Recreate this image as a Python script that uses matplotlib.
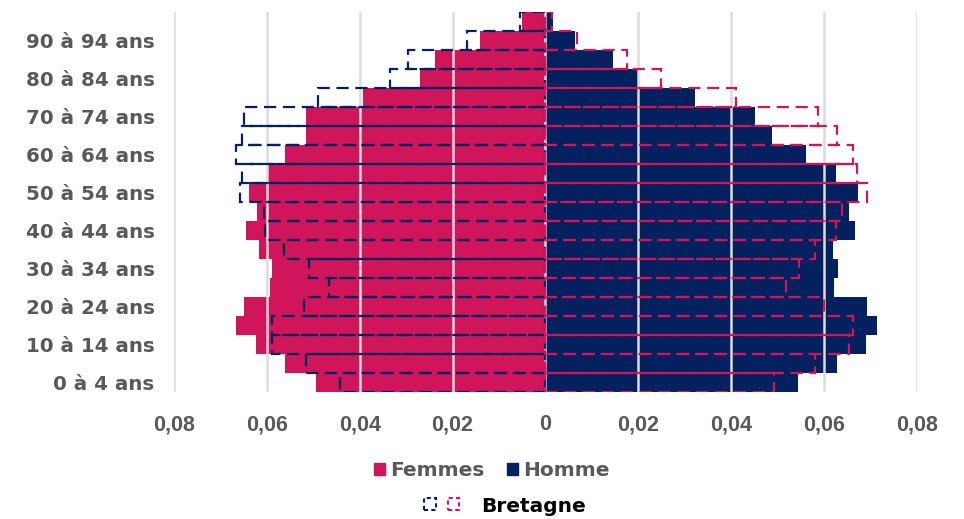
# ==========================================
# Pyramide des âges - comparaison Bretagne
# ==========================================

import matplotlib
matplotlib.use("Agg")
import matplotlib.pyplot as plt
from matplotlib.patches import Patch
from matplotlib.legend_handler import HandlerTuple
from matplotlib.ticker import FuncFormatter


# ==========================================
# 1. DONNÉES
# ==========================================

tranches = [
    "0 à 4 ans", "5 à 9 ans", "10 à 14 ans", "15 à 19 ans",
    "20 à 24 ans", "25 à 29 ans", "30 à 34 ans", "35 à 39 ans",
    "40 à 44 ans", "45 à 49 ans", "50 à 54 ans", "55 à 59 ans",
    "60 à 64 ans", "65 à 69 ans", "70 à 74 ans", "75 à 79 ans",
    "80 à 84 ans", "85 à 89 ans", "90 à 94 ans", "95 ans et plus"
]

femmes = [
    0.0494, 0.0560, 0.0624, 0.0666, 0.0650, 0.0593, 0.0589, 0.0616,
    0.0644, 0.0621, 0.0639, 0.0600, 0.0560, 0.0516, 0.0516, 0.0392,
    0.0271, 0.0237, 0.0142, 0.0050
]

hommes = [
    0.0544, 0.0627, 0.0690, 0.0715, 0.0692, 0.0621, 0.0629, 0.0620,
    0.0667, 0.0654, 0.0672, 0.0626, 0.0562, 0.0487, 0.0451, 0.0322,
    0.0199, 0.0145, 0.0063, 0.0017
]

bretagne_femmes = [
    0.0442, 0.0516, 0.0589, 0.0589, 0.0519, 0.0467, 0.0509, 0.0564,
    0.0603, 0.0606, 0.0657, 0.0654, 0.0666, 0.0654, 0.0650, 0.0490,
    0.0334, 0.0296, 0.0169, 0.0055
]

bretagne_hommes = [
    0.0492, 0.0580, 0.0654, 0.0662, 0.0600, 0.0517, 0.0545, 0.0580,
    0.0625, 0.0639, 0.0693, 0.0670, 0.0663, 0.0627, 0.0586, 0.0411,
    0.0248, 0.0175, 0.0068, 0.0015
]

graduations = [-0.08, -0.06, -0.04, -0.02, 0, 0.02, 0.04, 0.06, 0.08]

rose = "#D1155A"
marine = "#03205F"
gris = "#595959"
tirets = (0, (5.5, 3))


# ==========================================
# 2. GRAPHIQUE
# ==========================================

fig = plt.figure(figsize=(9.64, 5.19), dpi=100)
ax = fig.add_axes([0.1805, 0.2447, 0.7707, 0.7322])

positions = list(range(len(tranches)))

ax.barh(positions, [-v for v in femmes], height=1.0,
        color=rose, zorder=1)
ax.barh(positions, hommes, height=1.0,
        color=marine, zorder=1)

# Bretagne : contours en tirets (couleurs inversées)
ax.barh(positions, [-v for v in bretagne_femmes], height=1.0,
        fill=False, edgecolor=marine, linewidth=1.6,
        linestyle=tirets, zorder=3)
ax.barh(positions, bretagne_hommes, height=1.0,
        fill=False, edgecolor=rose, linewidth=1.6,
        linestyle=tirets, zorder=3)

# Quadrillage vertical au-dessus des barres
for g in graduations:
    ax.axvline(g, color="#dcdcdc", linewidth=1.8, zorder=2)

ax.set_xlim(-0.08, 0.08)
ax.set_ylim(-0.5, len(tranches) - 0.5)

ax.set_xticks(graduations)
ax.xaxis.set_major_formatter(FuncFormatter(
    lambda v, p: "0" if abs(v) < 1e-9
    else f"{abs(v):.2f}".replace(".", ",")
))
for lab in ax.get_xticklabels():
    lab.set_family("Liberation Sans")

ax.set_yticks(positions[::2])
ax.set_yticklabels(tranches[::2])

ax.tick_params(axis="x", length=0, pad=16, labelsize=15.5,
               labelcolor=gris)
ax.tick_params(axis="y", length=0, pad=14, labelsize=14.3,
               labelcolor=gris)
for lab in ax.get_xticklabels() + ax.get_yticklabels():
    lab.set_fontweight("bold")

for s in ax.spines.values():
    s.set_visible(False)


# ==========================================
# 3. LÉGENDES
# ==========================================

leg1 = fig.legend(
    handles=[Patch(color=rose), Patch(color=marine)],
    labels=["Femmes", "Homme"],
    loc="center", bbox_to_anchor=(492 / 964, 1 - 471 / 519),
    ncol=2, frameon=False,
    handlelength=0.55, handleheight=0.55,
    handletextpad=0.25, columnspacing=1.1,
    prop={"weight": "bold", "size": 14.5},
    labelcolor=gris
)

carre_marine = Patch(fill=False, edgecolor=marine, linewidth=1.5,
                     linestyle=(0, (2, 1.5)))
carre_rose = Patch(fill=False, edgecolor=rose, linewidth=1.5,
                   linestyle=(0, (2, 1.5)))

leg2 = fig.legend(
    handles=[(carre_marine, carre_rose)],
    labels=["Bretagne"],
    handler_map={tuple: HandlerTuple(ndivide=None, pad=0.6)},
    loc="center", bbox_to_anchor=(505 / 964, 1 - 506 / 519),
    frameon=False,
    handlelength=1.75, handleheight=0.55,
    handletextpad=1.1,
    prop={"weight": "bold", "size": 14.5},
    labelcolor="black"
)

plt.savefig("out.png", dpi=100)
